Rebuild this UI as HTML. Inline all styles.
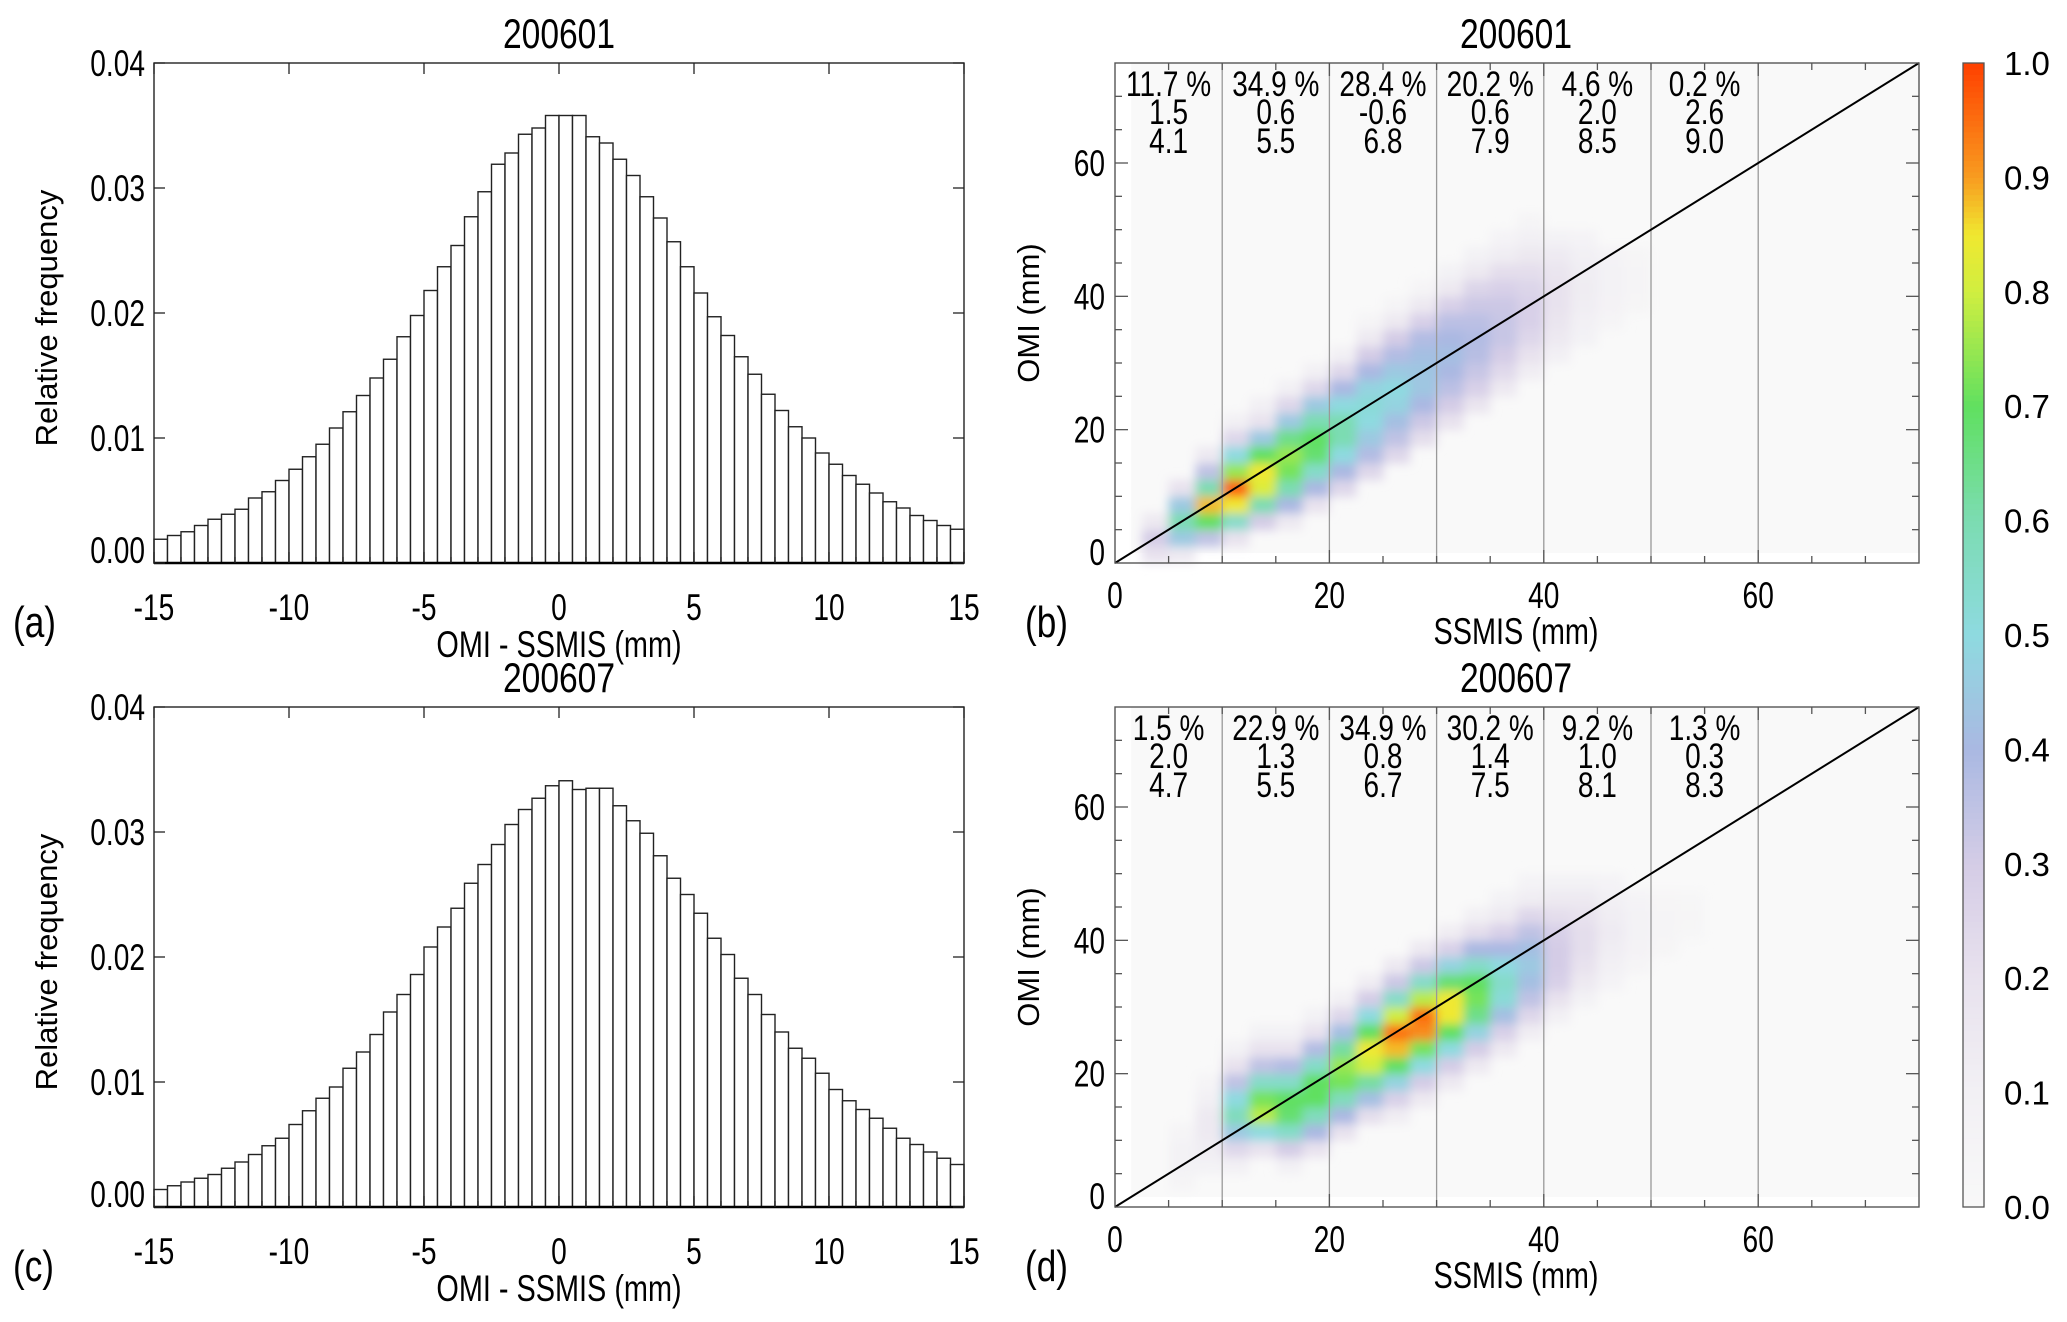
<!DOCTYPE html>
<html><head><meta charset="utf-8">
<style>
html,body{margin:0;padding:0;background:#fff;}
svg{display:block;font-family:"Liberation Sans",sans-serif;}
</style></head>
<body>
<svg id="fig" width="2067" height="1322" viewBox="0 0 2067 1322" xmlns="http://www.w3.org/2000/svg">
<defs><filter id="soft" x="-5%" y="-5%" width="110%" height="110%"><feGaussianBlur stdDeviation="5"/></filter></defs>
</svg>
<script>
// ---------- DATA ----------
const histTicksX = [-15,-10,-5,0,5,10,15];
const histTicksY = [0,0.01,0.02,0.03,0.04];
const histTickLabelsY = ["0.00","0.01","0.02","0.03","0.04"];
const histA = [0.0019,0.0022,0.0025,0.0030,0.0035,0.0039,0.0043,0.0052,0.0057,0.0066,
0.0075,0.0085,0.0095,0.0108,0.0121,0.0134,0.0148,0.0163,0.0181,0.0198,
0.0218,0.0237,0.0254,0.0277,0.0297,0.0319,0.0328,0.0343,0.0348,0.0358,
0.0358,0.0358,0.0341,0.0336,0.0323,0.0310,0.0293,0.0276,0.0257,0.0237,
0.0216,0.0197,0.0182,0.0165,0.0151,0.0135,0.0122,0.0109,0.0100,0.0088,
0.0079,0.0070,0.0063,0.0056,0.0049,0.0044,0.0038,0.0034,0.0030,0.0027];
const histC = [0.0014,0.0017,0.0020,0.0023,0.0026,0.0031,0.0036,0.0042,0.0049,0.0055,
0.0066,0.0077,0.0087,0.0096,0.0111,0.0124,0.0138,0.0156,0.0170,0.0186,
0.0208,0.0224,0.0239,0.0259,0.0274,0.0290,0.0306,0.0318,0.0327,0.0337,
0.0341,0.0334,0.0335,0.0335,0.0321,0.0309,0.0299,0.0281,0.0263,0.0250,
0.0235,0.0215,0.0202,0.0183,0.0170,0.0154,0.0140,0.0127,0.0119,0.0107,
0.0094,0.0085,0.0078,0.0071,0.0063,0.0055,0.0050,0.0044,0.0039,0.0034];
const heatTicksX = [0,20,40,60];
const heatTicksY = [0,20,40,60];
const dividers = [10,20,30,40,50,60];
// density columns (2.5 mm bins): [column index, start y-bin, values...]
const densB = [
[1,0,[0.2,0.3,0.15]],
[2,0,[0.15,0.45,0.6,0.45,0.2]],
[3,1,[0.35,0.7,0.88,0.6,0.35,0.15]],
[4,1,[0.2,0.55,0.85,0.97,0.75,0.5,0.25,0.1]],
[5,2,[0.3,0.6,0.82,0.85,0.7,0.45,0.2,0.1]],
[6,2,[0.15,0.4,0.6,0.72,0.75,0.65,0.45,0.25,0.1]],
[7,3,[0.2,0.4,0.55,0.68,0.7,0.6,0.45,0.25,0.1]],
[8,4,[0.25,0.4,0.5,0.6,0.6,0.5,0.4,0.25,0.1]],
[9,5,[0.25,0.38,0.45,0.5,0.52,0.48,0.4,0.3,0.15,0.05]],
[10,6,[0.25,0.35,0.42,0.48,0.5,0.45,0.38,0.3,0.15,0.05]],
[11,7,[0.22,0.32,0.4,0.44,0.44,0.42,0.38,0.28,0.15,0.05]],
[12,8,[0.2,0.3,0.36,0.4,0.42,0.4,0.36,0.28,0.15,0.08]],
[13,9,[0.18,0.28,0.33,0.37,0.38,0.36,0.32,0.26,0.15,0.08]],
[14,10,[0.15,0.24,0.3,0.33,0.33,0.32,0.28,0.22,0.12,0.06]],
[15,11,[0.12,0.2,0.25,0.28,0.28,0.26,0.22,0.16,0.1,0.05]],
[16,12,[0.1,0.15,0.18,0.2,0.2,0.18,0.14,0.08]],
[17,13,[0.08,0.1,0.12,0.13,0.12,0.1,0.06]],
[18,14,[0.05,0.07,0.08,0.08,0.06]],
[19,15,[0.04,0.05,0.05,0.04]]
];
const densD = [
[2,1,[0.05,0.08,0.08,0.05]],
[3,2,[0.08,0.12,0.15,0.15,0.1,0.05]],
[4,2,[0.1,0.25,0.45,0.58,0.5,0.35,0.2,0.08]],
[5,3,[0.2,0.5,0.78,0.72,0.55,0.35,0.2,0.08]],
[6,2,[0.1,0.3,0.55,0.68,0.7,0.55,0.38,0.2,0.08]],
[7,3,[0.2,0.4,0.58,0.7,0.7,0.55,0.38,0.2,0.08]],
[8,4,[0.2,0.4,0.58,0.72,0.75,0.62,0.42,0.25,0.1]],
[9,5,[0.22,0.42,0.62,0.8,0.85,0.7,0.5,0.3,0.12]],
[10,5,[0.12,0.28,0.48,0.7,0.88,0.95,0.8,0.55,0.32,0.15]],
[11,6,[0.15,0.3,0.5,0.72,0.92,0.95,0.78,0.55,0.32,0.15]],
[12,7,[0.15,0.3,0.5,0.7,0.85,0.85,0.68,0.48,0.28,0.12]],
[13,8,[0.15,0.3,0.48,0.65,0.72,0.7,0.55,0.4,0.22,0.1]],
[14,9,[0.15,0.28,0.42,0.52,0.55,0.5,0.4,0.28,0.15,0.08]],
[15,10,[0.12,0.25,0.35,0.42,0.45,0.42,0.35,0.25,0.12,0.06]],
[16,11,[0.1,0.2,0.28,0.3,0.3,0.28,0.22,0.15,0.08]],
[17,12,[0.08,0.15,0.2,0.22,0.22,0.2,0.15,0.08]],
[18,13,[0.06,0.1,0.12,0.14,0.12,0.1,0.06]],
[19,14,[0.05,0.07,0.08,0.08,0.06]],
[20,15,[0.04,0.05,0.05,0.04]],
[21,16,[0.03,0.04,0.03]]
];
const statsB = [["11.7 %","1.5","4.1"],["34.9 %","0.6","5.5"],["28.4 %","-0.6","6.8"],["20.2 %","0.6","7.9"],["4.6 %","2.0","8.5"],["0.2 %","2.6","9.0"]];
const statsD = [["1.5 %","2.0","4.7"],["22.9 %","1.3","5.5"],["34.9 %","0.8","6.7"],["30.2 %","1.4","7.5"],["9.2 %","1.0","8.1"],["1.3 %","0.3","8.3"]];
const cbarTicks = [0,0.1,0.2,0.3,0.4,0.5,0.6,0.7,0.8,0.9,1.0];
const cbarLabels = ["0.0","0.1","0.2","0.3","0.4","0.5","0.6","0.7","0.8","0.9","1.0"];

// ---------- HELPERS ----------
const NS="http://www.w3.org/2000/svg";
const svg=document.getElementById('fig');
function mk(tag,attrs,parent){const e=document.createElementNS(NS,tag);for(const k in attrs)e.setAttribute(k,attrs[k]);(parent||svg).appendChild(e);return e;}
function txt(s,x,y,size,anchor,sx,parent,name){
  const t=mk('text',{x:0,y:0,'font-size':size,'text-anchor':anchor,fill:'#000',transform:`translate(${x},${y}) scale(${sx},1)`},parent);
  t.textContent=s;
  
  
  return t;
}
const stops=[[0,[248,248,248]],[0.1,[242,240,244]],[0.2,[232,226,238]],[0.3,[212,204,230]],[0.4,[170,184,226]],[0.5,[142,218,224]],[0.6,[124,220,178]],[0.7,[96,224,96]],[0.8,[208,238,64]],[0.85,[240,232,48]],[0.9,[248,156,32]],[1.0,[255,64,0]]];
function cmap(v){v=Math.max(0,Math.min(1,v));for(let i=1;i<stops.length;i++){if(v<=stops[i][0]){const a=stops[i-1],b=stops[i];const f=(v-a[0])/(b[0]-a[0]);const c=a[1].map((q,j)=>Math.round(q+(b[1][j]-q)*f));return `rgb(${c[0]},${c[1]},${c[2]})`;}}return 'rgb(255,64,0)';}

// ---------- HISTOGRAM PANEL ----------
function histPanel(data,top,bot,title,letter,id){
  const g=mk('g',{});
  
  
  const x0=154,x1=964;
  const X=v=>x0+(v+15)/30*(x1-x0);
  const Y=v=>bot-v/0.04*(bot-top);
  data.forEach((v,i)=>{
    const r=mk('rect',{x:X(-15+i*0.5),y:Y(v),width:X(0.5)-X(0),height:bot-Y(v),fill:'#fff',stroke:'#222','stroke-width':1.4},g);
    
    
  });
  mk('rect',{x:x0,y:top,width:x1-x0,height:bot-top,fill:'none',stroke:'#222','stroke-width':1.4},g);
  mk('line',{x1:x0,y1:bot,x2:x1,y2:bot,stroke:'#000','stroke-width':2.5},g);
  for(let v=-15;v<=15;v++){const maj=v%5===0;const L=maj?11:6;
    mk('line',{x1:X(v),y1:bot,x2:X(v),y2:bot-L,stroke:'#222','stroke-width':1.3},g);
    if(maj)mk('line',{x1:X(v),y1:top,x2:X(v),y2:top+L,stroke:'#222','stroke-width':1.3},g);}
  histTicksX.forEach(v=>txt(String(v),X(v),bot+57,37,'middle',0.76,g,'x-tick-label'));
  histTicksY.forEach((v,i)=>{
    mk('line',{x1:x0,y1:Y(v),x2:x0+11,y2:Y(v),stroke:'#222','stroke-width':1.3},g);
    mk('line',{x1:x1,y1:Y(v),x2:x1-11,y2:Y(v),stroke:'#222','stroke-width':1.3},g);
    txt(histTickLabelsY[i],145,Y(v)+(i===0?0:13),37,'end',0.76,g,'y-tick-label');});
  txt(title,559,top-15,42,'middle',0.8,g,'panel-title');
  txt('OMI - SSMIS (mm)',559,top+594,37,'middle',0.78,g,'x-axis-title');
  txt(letter,13,top+574,44,'start',0.8,g,'panel-letter');
  const yl=mk('text',{x:0,y:0,'font-size':31,'text-anchor':'middle',transform:`translate(57,${top+255}) rotate(-90)`},g);
  yl.textContent='Relative frequency';
  
  
}

// ---------- HEATMAP PANEL ----------
function heatPanel(dens,stats,top,bot,title,letter,id){
  const g=mk('g',{});
  
  
  const x0=1115,x1=1919;
  const X=v=>x0+v/75*(x1-x0);
  const Y=v=>bot-v/75*(bot-top);
  mk('rect',{x:X(1.5),y:Y(75),width:X(75)-X(1.5),height:Y(1.5)-Y(75),fill:'#f9f9f9'},g);
  const cells=mk('g',{filter:'url(#soft)'},g);
  dens.forEach(col=>{
    const ci=col[0],sb=col[1];
    col[2].forEach((v,k)=>{
      const yb=sb+k;
      const r=mk('rect',{x:X(ci*2.5),y:Y((yb+1)*2.5),width:X(2.5)-X(0)+0.5,height:Y(0)-Y(2.5)+0.5,fill:cmap(v)},cells);
      
      
    });
  });
  dividers.forEach(v=>mk('line',{x1:X(v),y1:top,x2:X(v),y2:bot,stroke:'#999','stroke-width':1.3},g));
  const dl=mk('line',{x1:X(0),y1:Y(0),x2:X(75),y2:Y(75),stroke:'#000','stroke-width':2},g);
  
  
  mk('rect',{x:x0,y:top,width:x1-x0,height:bot-top,fill:'none',stroke:'#555','stroke-width':1.4},g);
  for(let v=5;v<75;v+=5){const L=v%20===0?13:7;
    mk('line',{x1:X(v),y1:bot,x2:X(v),y2:bot-L,stroke:'#555','stroke-width':1.3},g);
    mk('line',{x1:X(v),y1:top,x2:X(v),y2:top+L,stroke:'#555','stroke-width':1.3},g);
    mk('line',{x1:x0,y1:Y(v),x2:x0+L,y2:Y(v),stroke:'#555','stroke-width':1.3},g);
    mk('line',{x1:x1,y1:Y(v),x2:x1-L,y2:Y(v),stroke:'#555','stroke-width':1.3},g);}
  heatTicksX.forEach(v=>txt(String(v),X(v),bot+45,37,'middle',0.76,g,'x-tick-label'));
  heatTicksY.forEach(v=>txt(String(v),1105,Y(v)+(v===0?2:13),37,'end',0.76,g,'y-tick-label'));
  stats.forEach((s,i)=>{const cx=X(5+10*i);
    txt(s[0],cx,top+33,35,'middle',0.8,g,'stat-percent');
    txt(s[1],cx,top+61,35,'middle',0.8,g,'stat-bias');
    txt(s[2],cx,top+90,35,'middle',0.8,g,'stat-rmse');});
  txt(title,1516,top-15,42,'middle',0.8,g,'panel-title');
  txt('SSMIS (mm)',1516,top+581,37,'middle',0.78,g,'x-axis-title');
  txt(letter,1025,top+574,44,'start',0.8,g,'panel-letter');
  const yl=mk('text',{x:0,y:0,'font-size':31,'text-anchor':'middle',transform:`translate(1039,${top+250}) rotate(-90)`},g);
  yl.textContent='OMI (mm)';
  
  
}

histPanel(histA,63,563,'200601','(a)','a');
histPanel(histC,707,1207,'200607','(c)','c');
heatPanel(densB,statsB,63,563,'200601','(b)','b');
heatPanel(densD,statsD,707,1207,'200607','(d)','d');

// ---------- COLORBAR ----------
(function(){
  const g=mk('g',{});
  
  
  const cx0=1963,cx1=1984,ct=63,cb=1207;
  const CY=v=>cb-v*(cb-ct);
  for(let i=0;i<200;i++){const v=i/200;
    mk('rect',{x:cx0,y:CY(v+0.005),width:cx1-cx0,height:(cb-ct)/200+0.6,fill:cmap(v+0.0025)},g);}
  mk('rect',{x:cx0,y:ct,width:cx1-cx0,height:cb-ct,fill:'none',stroke:'#555','stroke-width':1.3},g);
  cbarTicks.forEach((v,i)=>txt(cbarLabels[i],2004,CY(v)+12,33,'start',1,g,'colorbar-label'));
})();
</script>
</body></html>
